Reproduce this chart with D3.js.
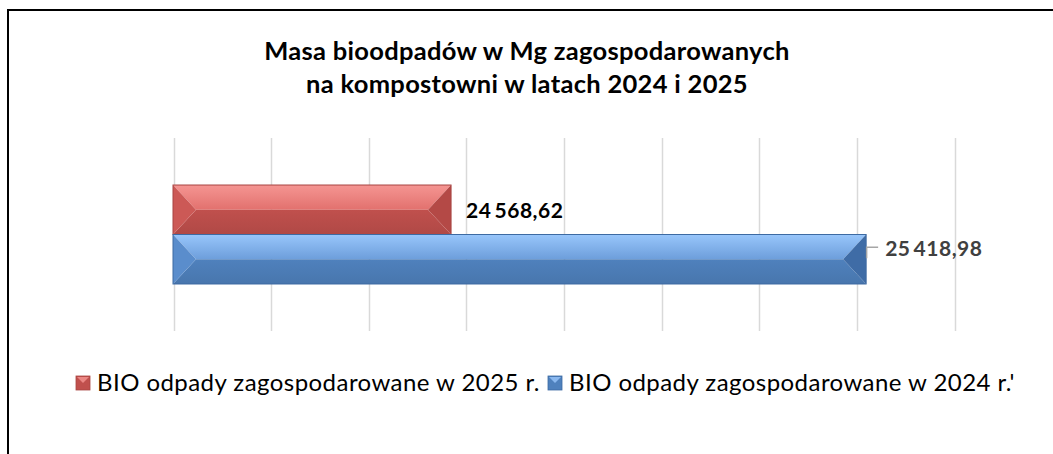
<!DOCTYPE html>
<html>
<head>
<meta charset="utf-8">
<script src="https://cdn.jsdelivr.net/npm/d3@7"></script>
<style>
    body { margin: 0; background: #fff; }
    svg { display: block; font-family: Lato, "Open Sans", sans-serif; }
</style>
</head>
<body>
<svg width="1053" height="454"></svg>
<script>
// dane
var titleLines = ["Masa bioodpadów w Mg zagospodarowanych", "na kompostowni w latach 2024 i 2025"];
var categories = ["kompostownia"];
var seriesNames = ["BIO odpady zagospodarowane w 2025 r.", "BIO odpady zagospodarowane w 2024 r.'"];
var seriesValues = [24568.62, 25418.98];
var axisDomain = [24000, 25600];
var tickValues = [24000, 24200, 24400, 24600, 24800, 25000, 25200, 25400, 25600];

;(function(){

    var svg = d3.select("svg"),
        W = +svg.attr("width"),
        H = +svg.attr("height");

    // kolory słupków (fazowanie)
    var color_hash = {
        0 : { top: "#f59592", mid: "#e2716e", base: "#c0504d", left: "#cc5956", right: "#b44946", stroke: "#a84542" },
        1 : { top: "#98c6fb", mid: "#6d9edb", base: "#4f81bd", left: "#5a8dcc", right: "#3f6ca6", stroke: "#3d6aa2" }
    };

    var fmt = d3.formatLocale({decimal: ",", thousands: "\u2009", grouping: [3], currency: ["", ""]}).format(",.2f");

    svg.append("rect").attr("width", W).attr("height", H).attr("fill", "#fff");

    // ramka (widoczna tylko góra i lewa krawędź)
    svg.append("path")
        .attr("d", "M8," + H + "V10H" + W)
        .attr("fill", "none")
        .attr("stroke", "#000")
        .attr("stroke-width", 2);

    // tytuł
    svg.append("text")
        .attr("x", 527)
        .attr("y", 60)
        .attr("text-anchor", "middle")
        .style("font-weight", "bold")
        .style("font-size", "25.5px")
        .style("letter-spacing", "0.3px")
        .attr("fill", "#000")
        .selectAll("tspan")
        .data(titleLines)
        .enter().append("tspan")
        .attr("x", 527)
        .attr("dy", function(d, i){ return i ? 33 : 0; })
        .text(function(d){ return d; });

    var x = d3.scaleLinear()
        .domain(axisDomain)
        .range([173.5, 954.5]);

    var y0 = d3.scaleBand()
        .domain(categories)
        .range([138, 331])
        .paddingOuter(0.475);

    var y1 = d3.scaleBand()
        .domain(d3.range(seriesValues.length))
        .range([0, y0.bandwidth()]);

    // siatka
    svg.append("g")
        .selectAll("line")
        .data(tickValues)
        .enter().append("line")
        .attr("x1", function(d){ return Math.round(x(d)) + 0.5; })
        .attr("x2", function(d){ return Math.round(x(d)) + 0.5; })
        .attr("y1", 138)
        .attr("y2", 331)
        .attr("stroke", "#d9d9d9")
        .attr("stroke-width", 1.5);

    var defs = svg.append("defs");
    seriesValues.forEach(function(v, i){
        var c = color_hash[i];
        var gTop = defs.append("linearGradient").attr("id", "top-" + i)
            .attr("x1", 0).attr("x2", 0).attr("y1", 0).attr("y2", 1);
        gTop.append("stop").attr("offset", "0%").attr("stop-color", c.top);
        gTop.append("stop").attr("offset", "100%").attr("stop-color", c.mid);
        var gBot = defs.append("linearGradient").attr("id", "bot-" + i)
            .attr("x1", 0).attr("x2", 0).attr("y1", 0).attr("y2", 1);
        gBot.append("stop").attr("offset", "0%").attr("stop-color", c.base);
        gBot.append("stop").attr("offset", "100%").attr("stop-color", d3.color(c.base).darker(0.25));
    });

    // słupki z fazowaniem
    var bars = svg.append("g")
        .attr("transform", "translate(0," + y0(categories[0]) + ")");

    seriesValues.forEach(function(v, i){
        var c = color_hash[i];
        var xa = x(axisDomain[0]) - 0.5, xb = x(v),
            ya = y1(i), yb = y1(i) + y1.bandwidth(),
            ym = (ya + yb) / 2,
            b = Math.min(23, (xb - xa) / 2);
        var g = bars.append("g");
        var poly = function(pts){ return "M" + pts.map(function(p){ return p.join(","); }).join("L") + "Z"; };
        g.append("path").attr("d", poly([[xa, ya], [xb, ya], [xb - b, ym], [xa + b, ym]])).attr("fill", "url(#top-" + i + ")");
        g.append("path").attr("d", poly([[xa + b, ym], [xb - b, ym], [xb, yb], [xa, yb]])).attr("fill", "url(#bot-" + i + ")");
        g.append("path").attr("d", poly([[xa, ya], [xa + b, ym], [xa, yb]])).attr("fill", c.left);
        g.append("path").attr("d", poly([[xb, ya], [xb, yb], [xb - b, ym]])).attr("fill", c.right);
        g.append("rect")
            .attr("x", xa).attr("y", ya)
            .attr("width", xb - xa).attr("height", yb - ya)
            .attr("fill", "none")
            .attr("stroke", c.stroke)
            .attr("stroke-width", 1);
    });

    // etykiety danych
    var top = y0(categories[0]);
    // 2025 - zwykła etykieta
    svg.append("text")
        .attr("x", x(seriesValues[0]) + 15)
        .attr("y", top + y1(0) + y1.bandwidth() / 2)
        .attr("dy", ".38em")
        .style("font-weight", "bold")
        .style("font-size", "21px")
        .style("letter-spacing", "0.5px")
        .attr("fill", "#000")
        .text(fmt(seriesValues[0]));

    // 2024 - etykieta przesunięta z linią odniesienia
    var bx = x(seriesValues[1]), by = top + y1(1) + y1.bandwidth() / 2;
    svg.append("path")
        .attr("d", "M" + (bx + 0.5) + "," + (by - 1) + "V" + (by - 12) + "H" + (bx + 12))
        .attr("fill", "none")
        .attr("stroke", "#a6a6a6")
        .attr("stroke-width", 1.5);
    svg.append("text")
        .attr("x", bx + 19)
        .attr("y", by - 11)
        .attr("dy", ".38em")
        .style("font-weight", "bold")
        .style("font-size", "21px")
        .style("letter-spacing", "0.5px")
        .attr("fill", "#404040")
        .text(fmt(seriesValues[1]));

    // legenda
    var legendX = [76, 548];
    var legend = svg.selectAll(".legend")
        .data(seriesNames)
        .enter().append("g")
        .attr("class", "legend")
        .attr("transform", function(d, i){ return "translate(" + legendX[i] + ",376)"; });

    legend.append("rect")
        .attr("width", 14)
        .attr("height", 14)
        .attr("fill", function(d, i){ return color_hash[i].base; })
        .attr("stroke", function(d, i){ return color_hash[i].stroke; })
        .attr("stroke-width", 0.8);

    legend.append("path")
        .attr("d", "M1,1H13L7,7Z")
        .attr("fill", function(d, i){ return color_hash[i].top; })
        .attr("opacity", 0.8);

    legend.append("text")
        .attr("x", 21)
        .attr("y", 15)
        .style("font-size", "24px")
        .style("letter-spacing", "0.45px")
        .attr("fill", "#000")
        .text(function(d){ return d; });

}());
</script>
</body>
</html>
